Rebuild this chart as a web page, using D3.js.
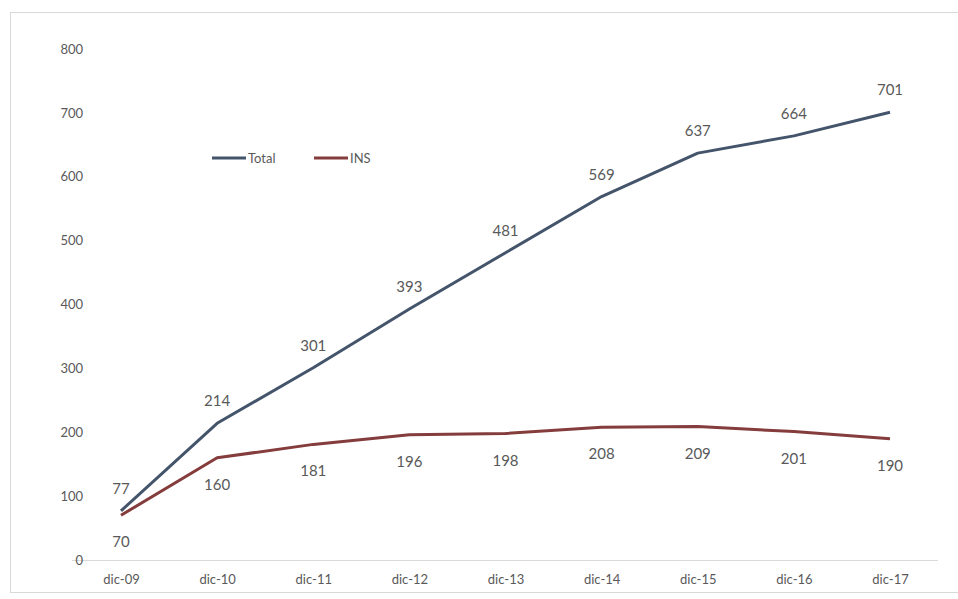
<!DOCTYPE html>
<html>
<head>
<meta charset="utf-8">
<script src="https://cdn.jsdelivr.net/npm/d3@7"></script>
<style>
  html, body { margin: 0; padding: 0; background: #fff; }
  svg { display: block; }
  text { font-family: Lato, "Open Sans", sans-serif; fill: #595959; }
</style>
</head>
<body>
<svg id="chart" width="958" height="599"></svg>
<script>
// Period labels along the x axis
const categories = ["dic-09", "dic-10", "dic-11", "dic-12", "dic-13", "dic-14", "dic-15", "dic-16", "dic-17"];
// Series values
const totalValues = [77, 214, 301, 393, 481, 569, 637, 664, 701];
const insValues = [70, 160, 181, 196, 198, 208, 209, 201, 190];
// Y axis ticks
const yTicks = [0, 100, 200, 300, 400, 500, 600, 700, 800];

const svg = d3.select("#chart");

// Outer frame
svg.append("rect")
  .attr("x", 10.5).attr("y", 12.5)
  .attr("width", 960).attr("height", 580)
  .attr("fill", "#fff").attr("stroke", "#d9d9d9").attr("stroke-width", 1);

const x = d3.scalePoint().domain(categories).range([121, 890]);
const y = d3.scaleLinear().domain([0, 800]).range([560, 49]);

// Baseline
svg.append("line")
  .attr("x1", 72).attr("x2", 938)
  .attr("y1", y(0) + 0.5).attr("y2", y(0) + 0.5)
  .attr("stroke", "#d9d9d9").attr("stroke-width", 1);

const axisFont = "Lato, 'Open Sans', sans-serif";
const axisColor = "#7f7f7f";

// Y axis labels
const yAxis = d3.axisLeft(y).tickValues(yTicks).tickSize(0).tickPadding(0);
const gy = svg.append("g").attr("transform", "translate(83,0)").call(yAxis);
gy.select(".domain").remove();
gy.selectAll("text")
  .attr("font-size", 13).attr("fill", axisColor)
  .style("font-family", axisFont);

// X axis labels
const xAxis = d3.axisBottom(x).tickSize(0).tickPadding(0);
const gx = svg.append("g").attr("transform", "translate(0,575)").call(xAxis);
gx.select(".domain").remove();
gx.selectAll("text")
  .attr("font-size", 13).attr("fill", axisColor)
  .style("font-family", axisFont);

const line = d3.line()
  .x((d, i) => x(categories[i]))
  .y(d => y(d));

const totalColor = "#44546a";
const insColor = "#843c3c";

svg.append("path").datum(insValues)
  .attr("d", line).attr("fill", "none")
  .attr("stroke", insColor).attr("stroke-width", 3).attr("stroke-linejoin", "round");

svg.append("path").datum(totalValues)
  .attr("d", line).attr("fill", "none")
  .attr("stroke", totalColor).attr("stroke-width", 3).attr("stroke-linejoin", "round");

// Value labels: Total above, INS below
svg.append("g").selectAll("text").data(totalValues).join("text")
  .attr("x", (d, i) => x(categories[i]))
  .attr("y", d => y(d) - 17)
  .attr("text-anchor", "middle")
  .attr("font-size", 15)
  .attr("fill", "#666")
  .text(d => d);

svg.append("g").selectAll("text").data(insValues).join("text")
  .attr("x", (d, i) => x(categories[i]))
  .attr("y", d => y(d) + 32)
  .attr("text-anchor", "middle")
  .attr("font-size", 15)
  .attr("fill", "#666")
  .text(d => d);

// Legend
const legend = [
  { name: "Total", color: totalColor, x: 212 },
  { name: "INS", color: insColor, x: 314 }
];
const lg = svg.append("g").selectAll("g").data(legend).join("g")
  .attr("transform", d => `translate(${d.x},158)`);
lg.append("line").attr("x1", 0).attr("x2", 34).attr("y1", 0).attr("y2", 0)
  .attr("stroke", d => d.color).attr("stroke-width", 3);
lg.append("text").attr("x", 36).attr("y", 5)
  .attr("font-size", 13).attr("fill", axisColor).text(d => d.name);
</script>
</body>
</html>
